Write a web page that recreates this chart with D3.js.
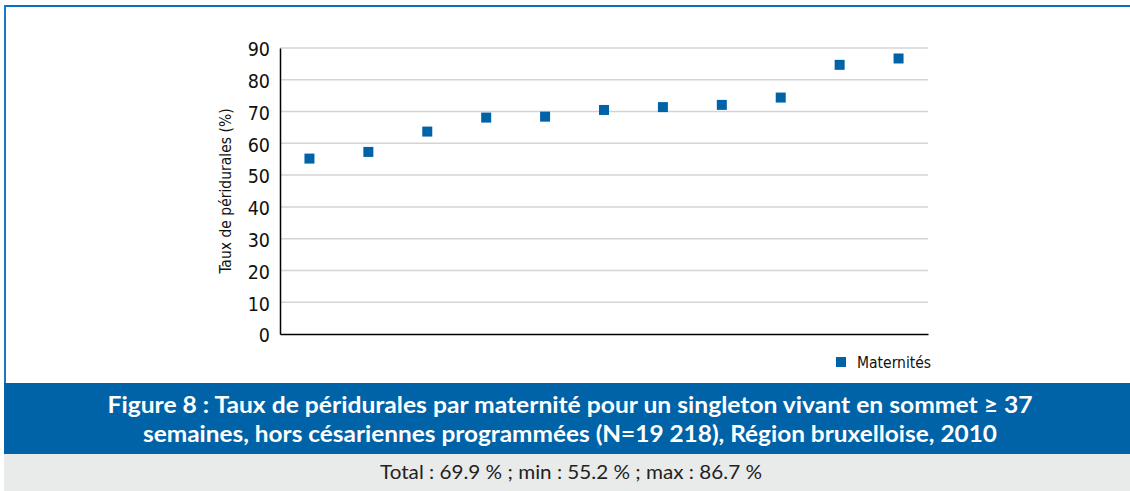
<!DOCTYPE html>
<html>
<head>
<meta charset="utf-8">
<script src="https://cdn.jsdelivr.net/npm/d3@7"></script>
<style>
  body { margin: 0; background: #fff; }
  .tick text { font-family: "DejaVu Sans Condensed", "DejaVu Sans", sans-serif; font-stretch: condensed; font-size: 19.5px; fill: #111; }
  .ytitle, .legend text { font-family: "DejaVu Sans Condensed", "DejaVu Sans", sans-serif; font-stretch: condensed; font-size: 15.5px; fill: #111; }
  .title { font-family: Lato, "Open Sans", sans-serif; font-weight: bold; font-size: 23px; fill: #fff; }
  .note { font-family: Lato, "Open Sans", sans-serif; font-size: 19px; fill: #222; }
</style>
</head>
<body>
<div class="js-chart"></div>
<script>
// maternités, sorted by rate
var maternites = ["M1", "M2", "M3", "M4", "M5", "M6", "M7", "M8", "M9", "M10", "M11"];
var taux = [55.2, 57.3, 63.7, 68.1, 68.4, 70.5, 71.4, 72.1, 74.4, 84.7, 86.7];
var yTicks = [0, 10, 20, 30, 40, 50, 60, 70, 80, 90];
var titleLines = [
  "Figure 8 : Taux de péridurales par maternité pour un singleton vivant en sommet ≥ 37",
  "semaines, hors césariennes programmées (N=19 218), Région bruxelloise, 2010"
];
var noteText = "Total : 69.9 % ; min : 55.2 % ; max : 86.7 %";
var BLUE = "#0063a8";

var width = 1130, height = 491;
var plot = {left: 280, right: 928, top: 48, bottom: 334};

var svg = d3.select('.js-chart').append('svg')
  .attr('width', width)
  .attr('height', height);

// frame: top + left blue rules
svg.append('line').attr('x1', 4).attr('x2', width).attr('y1', 6).attr('y2', 6)
  .attr('stroke', '#0a6fc2').attr('stroke-width', 2);
svg.append('line').attr('x1', 5).attr('x2', 5).attr('y1', 5).attr('y2', 383)
  .attr('stroke', '#1a78c8').attr('stroke-width', 2);

var x = d3.scaleBand().domain(maternites).range([plot.left, plot.right]);
var y = d3.scaleLinear().domain([0, 90]).range([plot.bottom, plot.top]);

// grid
svg.append('g').selectAll('line.grid')
  .data(yTicks.filter((d) => d > 0))
  .enter()
  .append('line')
  .attr('class', 'grid')
  .attr('x1', plot.left).attr('x2', plot.right)
  .attr('y1', (d) => y(d)).attr('y2', (d) => y(d))
  .attr('stroke', '#d4d4d4').attr('stroke-width', 1.5);

// y axis
var yAxis = svg.append('g')
  .attr('transform', `translate(${plot.left},0)`)
  .call(d3.axisLeft(y).tickValues(yTicks).tickSize(0).tickPadding(10));
yAxis.select('.domain').attr('stroke', '#000').attr('stroke-width', 1.5);
yAxis.selectAll('.tick text').attr('dy', '0.4em');

// x axis (no labels)
var xAxis = svg.append('g')
  .attr('transform', `translate(0,${plot.bottom})`)
  .call(d3.axisBottom(x).tickSize(0).tickFormat(''));
xAxis.select('.domain').attr('stroke', '#000').attr('stroke-width', 1.5);

svg.append('text')
  .attr('class', 'ytitle')
  .attr('transform', `translate(231,${(plot.top + plot.bottom) / 2})rotate(-90)`)
  .style('text-anchor', 'middle')
  .text('Taux de péridurales (%)');

// points
var S = 10;
svg.append('g').selectAll('rect.pt')
  .data(taux)
  .enter()
  .append('rect')
  .attr('class', 'pt')
  .attr('x', (d, i) => x(maternites[i]) + x.bandwidth() / 2 - S / 2)
  .attr('y', (d) => y(d) - S / 2)
  .attr('width', S).attr('height', S)
  .attr('fill', BLUE);

// legend
var legend = svg.append('g').attr('class', 'legend');
legend.append('rect').attr('x', 836).attr('y', 357).attr('width', 10).attr('height', 10).attr('fill', BLUE);
legend.append('text').attr('x', 857).attr('y', 368).text('Maternités');

// title band
var titleWidths = [925, 854];
svg.append('rect').attr('x', 4).attr('y', 383).attr('width', width - 4).attr('height', 71).attr('fill', BLUE);
svg.append('g').selectAll('text.title')
  .data(titleLines)
  .enter()
  .append('text')
  .attr('class', 'title')
  .attr('x', 570)
  .attr('y', (d, i) => 413 + i * 29)
  .attr('textLength', (d, i) => titleWidths[i])
  .attr('lengthAdjust', 'spacingAndGlyphs')
  .style('text-anchor', 'middle')
  .text((d) => d);

// note band
svg.append('rect').attr('x', 4).attr('y', 454).attr('width', width - 4).attr('height', 37).attr('fill', '#e9ebea');
svg.append('text').attr('class', 'note')
  .attr('x', 571).attr('y', 479)
  .attr('textLength', 382)
  .attr('lengthAdjust', 'spacingAndGlyphs')
  .style('text-anchor', 'middle')
  .text(noteText);
</script>
</body>
</html>
